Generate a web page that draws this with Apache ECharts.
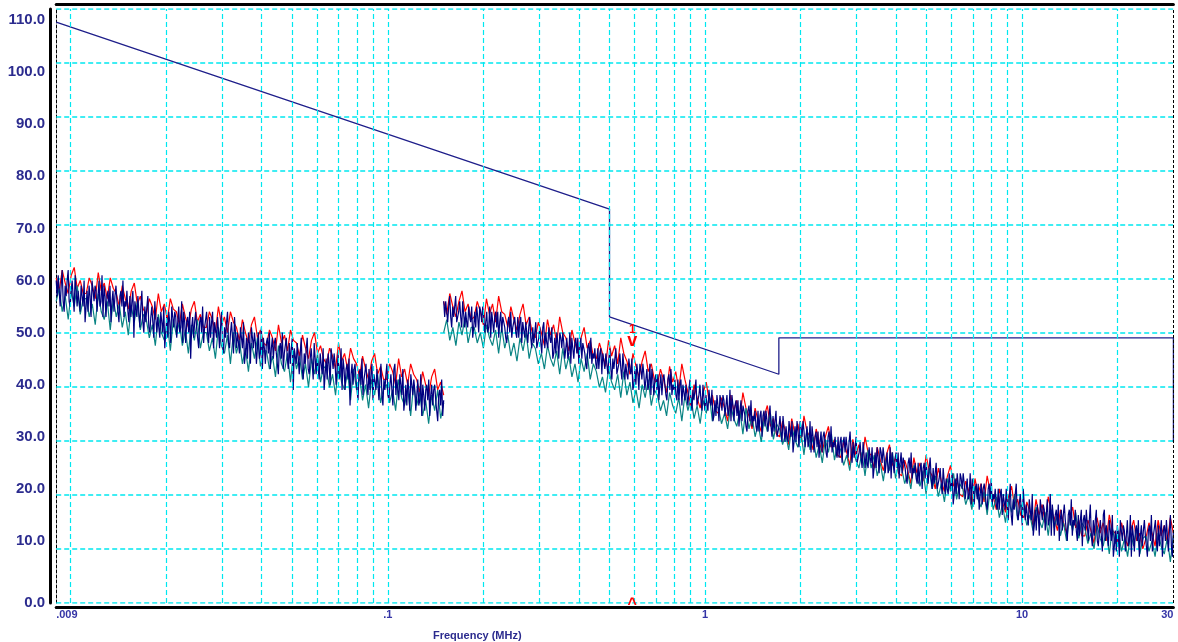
<!DOCTYPE html>
<html><head><meta charset="utf-8">
<script src="https://cdn.jsdelivr.net/npm/echarts@6/dist/echarts.min.js"></script>
<style>html,body{margin:0;padding:0;background:#fff}#c{width:1178px;height:642px}</style>
</head><body><div id="c"></div>
<script>
// ---- axis ticks / labels ----
const xMin = 0.009, xMax = 30;
const xLabelValues = [0.009, 0.1, 1, 10, 30];
const xLabelTexts = ['.009', '.1', '1', '10', '30'];
const xGridFreqs = [0.01,0.02,0.03,0.04,0.05,0.06,0.07,0.08,0.09,0.1,0.2,0.3,0.4,0.5,0.6,0.7,0.8,0.9,1,2,3,4,5,6,7,8,9,10,20];
const yGridValues = [0,10,20,30,40,50,60,70,80,90,100,110];
const yLabelValues = [-1.9, 10, 20, 30, 40, 50, 60, 70, 80, 90, 100, 110];
const yLabelTexts = ['0.0','10.0','20.0','30.0','40.0','50.0','60.0','70.0','80.0','90.0','100.0','110.0'];

// ---- sweep segments (MHz) ----
const seg1Start = 0.009, seg1Stop = 0.15;
const seg2Start = 0.15, seg2Stop = 30;

// ---- limit line ----
const limitFreq = [0.009, 0.5, 0.5, 1.71, 1.71, 30, 30];
const limitVal = [109.6, 73.7, 53.0, 42.0, 49.0, 49.0, 29.0];

// ---- marker ----
const markerFreq = 0.59;
const markerVal = 47.2;

// ---- traces, segment 1 (0.009 - 0.15 MHz) ----
const navy1 = [
 60,57,61,58,55,59,62,56,54,59, 57,60,62,56,55,58,60,57,54,61, 61,55,58,56,54,59,57,55,60,52, 55,58,54,59,57,53,60,58,56,59,
 58,54,57,60,55,56,61,53,59,57, 53,57,58,55,59,52,56,58,54,57, 59,56,54,52,57,58,55,60,53,56, 55,58,54,52,57,53,56,58,49,56,
 56,53,57,54,51,55,58,52,50,55, 52,55,57,51,50,53,55,52,49,56, 56,50,53,51,49,54,52,50,55,47, 50,53,49,54,52,48,55,53,51,54,
 53,49,52,55,50,51,56,48,54,52, 48,52,53,50,54,45,51,53,49,52, 54,51,49,47,52,53,50,55,48,51, 51,54,50,48,53,49,52,54,47,52,
 52,49,53,50,47,51,54,48,46,51, 49,52,54,48,47,50,52,49,46,53, 53,47,50,48,46,51,49,47,52,44, 46,49,45,50,48,44,51,49,47,50,
 48,44,47,50,45,46,51,43,49,47, 44,48,49,46,50,43,47,49,45,48, 49,46,44,42,47,48,45,50,43,46, 46,49,45,43,48,44,47,49,39,47,
 47,44,48,45,42,46,49,43,41,46, 44,47,49,43,42,45,47,44,41,48, 48,42,45,43,41,46,44,42,47,39, 42,45,41,46,44,40,47,45,43,46,
 44,40,43,46,41,42,47,39,45,43, 39,43,44,41,45,36,42,44,40,43, 44,41,39,37,42,43,40,45,38,41, 41,44,40,38,43,39,42,44,37,42,
 42,39,43,40,37,41,44,38,36,41, 39,42,44,38,37,40,42,39,36,43, 44,38,41,39,37,42,40,38,43,35, 37,40,36,41,39,35,42,40,38,41,
 39,35,38,41,36,37,42,34,40,38, 35,39,40,37,41,34,38,40,36,39, 40,37,35,33,38,39,36,41,34,37];
const red1 = [
 60.5,58,62,59.5,57.5,61,62.5,58.5,60,57.5, 57.5,60.5,59,56.5,61.5,58,59.5,56.5,60.5,58.5, 57.5,55,59,56.5,54.5,58,59.5,55.5,57,54.5,
 53.5,56.5,55,52.5,57.5,54,55.5,52.5,56.5,54.5, 54,51.5,55.5,53,51,54.5,56,52,53.5,51, 51,54,52.5,50,55,51.5,53,50,54,52,
 51,48.5,52.5,50,48,51.5,53,49,50.5,48, 47.5,50.5,49,46.5,51.5,48,49.5,46.5,50.5,48.5, 48,45.5,49.5,47,45,48.5,50,46,47.5,45,
 44,47,45.5,43,48,44.5,46,43,47,45, 44,41.5,45.5,43,41,44.5,46,42,43.5,41, 41,44,42.5,40,45,41.5,43,40,44,42,
 41,38.5,42.5,40,38,41.5,43,39,40.5,38];
const teal1 = [
 56,58.5,54,57,52.5,58,55,59,53.5,56.5, 56.5,53,55.5,51.5,57.5,54,52.5,56,50.5,56.5, 53,55.5,51,54,49.5,55,52,56,50.5,53.5,
 52.5,49,51.5,47.5,53.5,50,48.5,52,46.5,52.5, 49.5,52,47.5,50.5,46,51.5,48.5,52.5,47,50, 50,46.5,49,45,51,47.5,46,49.5,44,50,
 46,48.5,44,47,42.5,48,45,49,43.5,46.5, 46.5,43,45.5,41.5,47.5,44,42.5,46,40.5,46.5, 43,45.5,41,44,39.5,45,42,46,40.5,43.5,
 43,39.5,42,38,44,40.5,39,42.5,37,43, 39,41.5,37,40,35.5,41,38,42,36.5,39.5, 40,36.5,39,35,41,37.5,36,39.5,34,40,
 36,38.5,34,37,32.5,38,35,39,33.5,36.5];

// ---- traces, segment 2 (0.15 - 30 MHz) ----
const navy2 = [
 56,53,56,54,52,55,57,53,51,55, 53,55,57,52,52,54,56,53,51,56, 56,51,54,52,51,55,53,52,55,49, 51,54,51,55,53,50,55,54,52,55,
 53,50,52,54,50,51,55,49,54,52, 50,53,54,51,54,49,52,54,50,53, 53,51,49,48,52,53,50,54,49,51, 51,53,50,49,53,49,52,53,48,52,
 52,49,52,50,48,51,53,49,47,51, 48,50,52,47,47,49,51,48,46,51, 52,47,50,48,47,51,49,48,51,45, 46,49,46,50,48,45,50,49,47,50,
 48,45,47,49,45,46,50,44,49,47, 45,48,49,46,49,44,47,49,45,48, 48,46,44,43,47,48,45,49,44,46, 45,47,44,43,47,43,46,47,42,46,
 46,43,46,44,42,45,47,43,41,45, 43,45,47,42,42,44,46,43,41,46, 46,41,44,42,41,45,43,42,45,39, 40,43,40,44,42,39,44,43,41,44,
 42,39,41,43,39,40,44,38,43,41, 38,41,42,39,42,37,40,42,38,41, 42,40,38,37,41,42,39,43,38,40, 39,41,38,37,41,37,40,41,36,40,
 40,37,40,38,36,39,41,37,35,39, 37,39,41,36,36,38,40,37,35,40, 40,35,38,36,35,39,37,36,39,33, 34,37,34,38,36,33,38,37,35,38,
 37,34,36,38,34,35,39,33,38,36, 33,36,37,34,37,32,35,37,33,36, 36,34,32,31,35,36,33,37,32,34, 33,35,32,31,35,31,34,35,30,34,
 35,32,35,33,31,34,36,32,30,34, 31,33,35,30,30,32,34,31,29,34, 34,29,32,30,29,33,31,30,33,27, 29,32,29,33,31,28,33,32,30,33,
 31,28,30,32,28,29,33,27,32,30, 27,30,31,28,31,26,29,31,27,30, 31,29,27,26,30,31,28,32,27,29, 28,30,27,26,30,26,29,30,25,29,
 30,27,30,28,26,29,31,27,25,29, 26,28,30,25,25,27,29,26,24,29, 29,24,27,25,24,28,26,25,28,22, 24,27,24,28,26,23,28,27,25,28,
 26,23,25,27,23,24,28,22,27,25, 23,26,27,24,27,22,25,27,23,26, 26,24,22,21,25,26,23,27,22,24, 23,25,22,21,25,21,24,25,20,24,
 25,22,25,23,21,24,26,22,20,24, 21,23,25,20,20,22,24,21,19,24, 24,19,22,20,19,23,21,20,23,17, 19,22,19,23,21,18,23,22,20,23,
 21,18,20,22,18,19,23,17,22,20, 17,20,21,18,21,16,19,21,17,20, 21,19,17,16,20,21,18,22,17,19, 18,20,17,16,20,16,19,20,15,19,
 19,16,20,17,14,18,21,15,13,18, 16,19,21,15,14,17,19,16,13,20, 20,14,17,15,13,18,16,14,19,11, 13,16,12,17,15,11,18,16,14,17,
 16,12,15,18,13,14,19,11,17,15, 11,15,16,13,17,10,14,16,12,15, 17,14,12,10,15,16,13,18,11,14, 13,16,12,10,15,11,14,16,9,14,
 15,12,16,13,10,14,17,11,9,14, 11,14,16,10,9,12,14,11,8,15, 16,10,13,11,9,14,12,10,15,7, 9,12,8,13,11,7,14,12,10,13,
 12,8,11,14,9,10,15,7,13,11, 8,12,13,10,14,7,11,13,9,12, 14,11,9,7,12,13,10,15,8,11, 11,14,10,8,13,9,12,14,7,12,
 13,10,14,11,8,12,15,9,7,12];
const red2 = [
 56,53.5,57.5,55,53,56,58,54,55.5,52.5, 53,56,54,51.5,56.5,53.5,55.5,52,57,54, 53.5,51,55,52.5,50.5,53.5,55.5,51.5,53,50,
 49,52,50,47.5,52.5,49.5,51.5,48,53,50, 49,46.5,50.5,48,46,49,51,47,48.5,45.5, 45,48,46,43.5,48.5,45.5,47.5,44,49,46,
 44.5,42,46,43.5,41.5,44.5,46.5,42.5,44,41, 40,43,41,38.5,43.5,40.5,42.5,39,44,41, 38.5,36,40,37.5,35.5,38.5,40.5,36.5,38,35,
 34.5,37.5,35.5,33,38,35,37,33.5,38.5,35.5, 34,31.5,35.5,33,31,34,36,32,33.5,30.5, 30,33,31,28.5,33.5,30.5,32.5,29,34,31,
 30,27.5,31.5,29,27,30,32,28,29.5,26.5, 26,29,27,24.5,29.5,26.5,28.5,25,30,27, 26.5,24,28,25.5,23.5,26.5,28.5,24.5,26,23,
 22.5,25.5,23.5,21,26,23,25,21.5,26.5,23.5, 22.5,20,24,21.5,19.5,22.5,24.5,20.5,22,19, 18.5,21.5,19.5,17,22,19,21,17.5,22.5,19.5,
 18.5,16,20,17.5,15.5,18.5,20.5,16.5,18,15, 14.5,17.5,15.5,13,18,15,17,13.5,18.5,15.5, 14.5,12,16,13.5,11.5,14.5,16.5,12.5,14,11,
 11,14,12,9.5,14.5,11.5,13.5,10,15,12, 11.5,9.5,13.5,11,9,12,14,10,11.5,8.5, 10.5,13.5,11.5,9,14,11,13,9.5,14.5,11.5];
const teal2 = [
 50,52.5,48.5,51,47.5,52,49.5,53,48,51, 51,48,50,47,51.5,49,47.5,50.5,46,51, 47,49.5,45.5,48,44.5,49,46.5,50,45,48,
 47,44,46,43,47.5,45,43.5,46.5,42,47, 43,45.5,41.5,44,40.5,45,42.5,46,41,44, 42.5,39.5,41.5,38.5,43,40.5,39,42,37.5,42.5,
 38,40.5,36.5,39,35.5,40,37.5,41,36,39, 38,35,37,34,38.5,36,34.5,37.5,33,38, 35,37.5,33.5,36,32.5,37,34.5,38,33,36,
 35.5,32.5,34.5,31.5,36,33.5,32,35,30.5,35.5, 31.5,34,30,32.5,29,33.5,31,34.5,29.5,32.5, 31.5,28.5,30.5,27.5,32,29.5,28,31,26.5,31.5,
 27.5,30,26,28.5,25,29.5,27,30.5,25.5,28.5, 27.5,24.5,26.5,23.5,28,25.5,24,27,22.5,27.5, 24,26.5,22.5,25,21.5,26,23.5,27,22,25,
 24,21,23,20,24.5,22,20.5,23.5,19,24, 20,22.5,18.5,21,17.5,22,19.5,23,18,21, 20,17,19,16,20.5,18,16.5,19.5,15,20,
 16,18.5,14.5,17,13.5,18,15.5,19,14,17, 16,13,15,12,16.5,14,12.5,15.5,11,16, 12.5,15,11,13.5,10,14.5,12,15.5,10.5,13.5,
 12.5,9.5,11.5,8.5,13,10.5,9,12,7.5,12.5, 9.5,12,8,10.5,7,11.5,9,12.5,7.5,10.5, 11,8,10,7,11.5,9,7.5,10.5,6,11];

// ---- build ----
function sweep(start, stop, n) {
  const a = Math.log10(start), b = Math.log10(stop);
  const out = [];
  for (let i = 0; i < n; i++) out.push(Math.pow(10, a + (b - a) * i / (n - 1)));
  return out;
}
function pairs(start, stop, vals) {
  const f = sweep(start, stop, vals.length);
  return vals.map((v, i) => [f[i], v]);
}
function lookup(values, texts, v, useLog) {
  for (let i = 0; i < values.length; i++) {
    const d = useLog ? Math.abs(Math.log10(v) - Math.log10(values[i])) : Math.abs(v - values[i]);
    if (d < 1e-6) return texts[i];
  }
  return '';
}
const FONT = 'Liberation Sans, Arial, sans-serif';
const LABEL_BLUE = '#2b2b8e';
const CYAN = '#00e8f0';
const RED = '#ff0000';

function trace(name, color, width, start, stop, vals) {
  return {
    name, type: 'line', xAxisIndex: 0, yAxisIndex: 0, data: pairs(start, stop, vals),
    showSymbol: false, symbol: 'none', z: 2, silent: true, sampling: null,
    lineStyle: { color, width }
  };
}
// horizontal grid lines as broken line series spanning the axis extent
const hGridData = [];
yGridValues.forEach(v => { hGridData.push([xMin, v], [xMax, v], '-'); });

const chart = echarts.init(document.getElementById('c'), null, { renderer: 'canvas' });
chart.setOption({
  animation: false,
  backgroundColor: '#fff',
  title: {
    text: 'Frequency (MHz)', left: 428, top: 625,
    textStyle: { fontFamily: FONT, fontSize: 11, fontWeight: 'bold', color: LABEL_BLUE }
  },
  grid: { left: 56.2, right: 4.6, top: 9, bottom: 39, containLabel: false },
  xAxis: [
    {
      type: 'log', logBase: 10, min: xMin, max: xMax, position: 'bottom', offset: 4,
      axisLine: { show: true, onZero: false, lineStyle: { color: '#000', width: 3 } },
      axisTick: { show: false }, splitLine: { show: false }, minorTick: { show: false },
      axisLabel: {
        customValues: xLabelValues, margin: 2,
        formatter: v => lookup(xLabelValues, xLabelTexts, v, true),
        fontFamily: FONT, fontSize: 11, fontWeight: 'bold', color: '#3434a6',
        alignMinLabel: 'left', alignMaxLabel: 'right'
      }
    },
    {
      type: 'log', logBase: 10, min: xMin, max: xMax, position: 'top', offset: 5,
      axisLine: { show: true, onZero: false, lineStyle: { color: '#000', width: 3 } },
      axisTick: { show: false }, axisLabel: { show: false }, splitLine: { show: false }
    }
  ],
  yAxis: [
    {
      type: 'value', min: -1.9, max: 112.1, position: 'left', offset: 6,
      axisLine: { show: true, onZero: false, lineStyle: { color: '#000', width: 3 } },
      axisTick: { show: false }, splitLine: { show: false }, splitArea: { show: false },
      axisLabel: {
        customValues: yLabelValues, margin: 5,
        formatter: v => lookup(yLabelValues, yLabelTexts, v, false),
        fontFamily: FONT, fontSize: 15, fontWeight: 'bold', color: LABEL_BLUE
      }
    },
    {
      type: 'value', min: 0, max: 110, interval: 10, position: 'left', offset: 0,
      axisLine: { show: true, onZero: false, lineStyle: { color: '#000', width: 1, type: [3, 2] } },
      axisTick: { show: false }, axisLabel: { show: false },
      splitLine: { show: false }, splitArea: { show: false }
    }
  ],
  series: [
    {
      name: 'hgrid', type: 'line', xAxisIndex: 0, yAxisIndex: 1, z: 1, silent: true,
      data: hGridData, showSymbol: false, symbol: 'none', connectNulls: false,
      lineStyle: { color: CYAN, width: 1.3, type: [5, 3] }
    },
    {
      name: 'vgrid', type: 'line', xAxisIndex: 0, yAxisIndex: 1, data: [], z: 1, silent: true,
      markLine: {
        silent: true, symbol: ['none', 'none'], animation: false,
        label: { show: false },
        lineStyle: { color: CYAN, width: 1.2, type: [5, 3] },
        data: xGridFreqs.map(f => ({ xAxis: f })).concat([
          { xAxis: xMax, lineStyle: { color: '#000', width: 1, type: [3, 2] } }
        ])
      }
    },
    trace('red1', RED, 1.2, seg1Start, seg1Stop, red1),
    trace('red2', RED, 1.2, seg2Start, seg2Stop, red2),
    trace('teal1', '#0a8484', 1.2, seg1Start, seg1Stop, teal1),
    trace('teal2', '#0a8484', 1.2, seg2Start, seg2Stop, teal2),
    trace('navy1', '#000080', 1.2, seg1Start, seg1Stop, navy1),
    trace('navy2', '#000080', 1.2, seg2Start, seg2Stop, navy2),
    {
      name: 'limit', type: 'line', xAxisIndex: 0, yAxisIndex: 0, z: 3, silent: true,
      data: limitFreq.map((f, i) => [f, limitVal[i]]),
      showSymbol: false, symbol: 'none',
      lineStyle: { color: '#1e1e8a', width: 1.3 }
    },
    {
      name: 'marker', type: 'scatter', xAxisIndex: 0, yAxisIndex: 0, z: 5, silent: true,
      symbolSize: 1, itemStyle: { color: 'rgba(0,0,0,0)', opacity: 1 },
      data: [
        { value: [markerFreq, markerVal], label: { show: true, position: 'top', distance: -3, formatter: 'v', fontSize: 18 } },
        { value: [markerFreq, markerVal], label: { show: true, position: 'top', distance: 11, formatter: '1', fontSize: 12 } },
        { value: [markerFreq, -1.9], label: { show: true, position: 'top', distance: -10, formatter: '^', fontSize: 16 } }
      ],
      label: { show: true, fontFamily: FONT, fontWeight: 'bold', color: RED, opacity: 1, textBorderWidth: 0 }
    }
  ]
});
</script>
</body></html>
